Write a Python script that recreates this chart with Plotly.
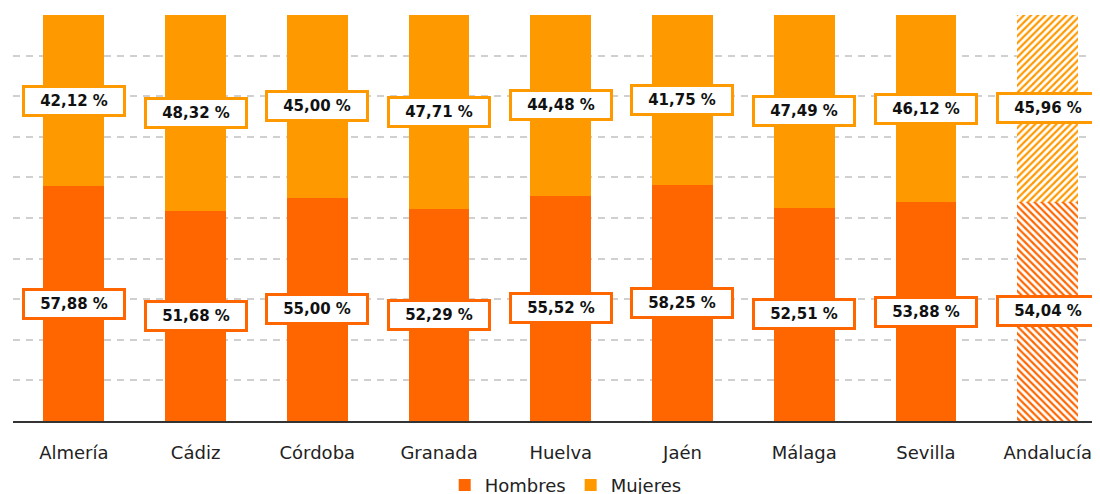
import plotly.graph_objects as go

provincias = ["Almería", "Cádiz", "Córdoba", "Granada", "Huelva",
              "Jaén", "Málaga", "Sevilla", "Andalucía"]
hombres = [57.88, 51.68, 55.00, 52.29, 55.52, 58.25, 52.51, 53.88, 54.04]
mujeres = [42.12, 48.32, 45.00, 47.71, 44.48, 41.75, 47.49, 46.12, 45.96]

COLOR_H = "#FF6600"
COLOR_M = "#FF9900"


def fmt(v):
    return f"{v:.2f}".replace(".", ",") + " %"


# la barra de Andalucía va rayada (rayas naranjas sobre blanco)
n = len(provincias)
pat_h = [""] * (n - 1) + ["\\"]
pat_m = [""] * (n - 1) + ["/"]

fig = go.Figure()
fig.add_trace(go.Bar(
    x=provincias, y=hombres, name="Hombres",
    marker=dict(color=COLOR_H, line_width=0,
                pattern=dict(shape=pat_h, size=5, solidity=0.45, fillmode="replace",
                             fgcolor=COLOR_H, bgcolor="white")),
    width=0.5,
))
fig.add_trace(go.Bar(
    x=provincias, y=mujeres, name="Mujeres",
    marker=dict(color=COLOR_M, line_width=0,
                pattern=dict(shape=pat_m, size=5, solidity=0.45, fillmode="replace",
                             fgcolor=COLOR_M, bgcolor="white")),
    width=0.5,
))

# etiquetas en el centro de cada tramo
annotations = []
for p, h, m in zip(provincias, hombres, mujeres):
    for val, ypos, col in ((h, h / 2, COLOR_H), (m, h + m / 2, COLOR_M)):
        annotations.append(dict(
            x=p, y=ypos, text=fmt(val), showarrow=False,
            font=dict(family="DejaVu Sans", size=15, color="#111", weight="bold"),
            bgcolor="white", bordercolor=col, borderwidth=3, borderpad=4,
            width=90, height=18,
        ))

# la página añade 8 px de margen al cuerpo: se compensa aquí
fig.update_layout(
    barmode="stack",
    width=1100, height=494,
    margin=dict(l=5, r=8, t=7, b=81),
    plot_bgcolor="white", paper_bgcolor="white",
    font=dict(family="DejaVu Sans", size=16, color="#222"),
    annotations=annotations,
    legend=dict(orientation="h", xref="container", yref="container",
                x=0.507, xanchor="center", y=0.034, yanchor="middle",
                font=dict(size=18, color="#222"), itemwidth=30, traceorder="normal"),
)
fig.update_xaxes(range=[-0.5, 8.43], showline=True, linecolor="#333", linewidth=2,
                 ticks="", showgrid=False, tickfont=dict(size=18, color="#222"),
                 ticklabelstandoff=14)
fig.update_yaxes(range=[0, 100], dtick=10, showticklabels=False, zeroline=False,
                 showgrid=True, gridcolor="#d0d0d0", gridwidth=2, griddash="7px,6px")

fig.write_html("out.html")
